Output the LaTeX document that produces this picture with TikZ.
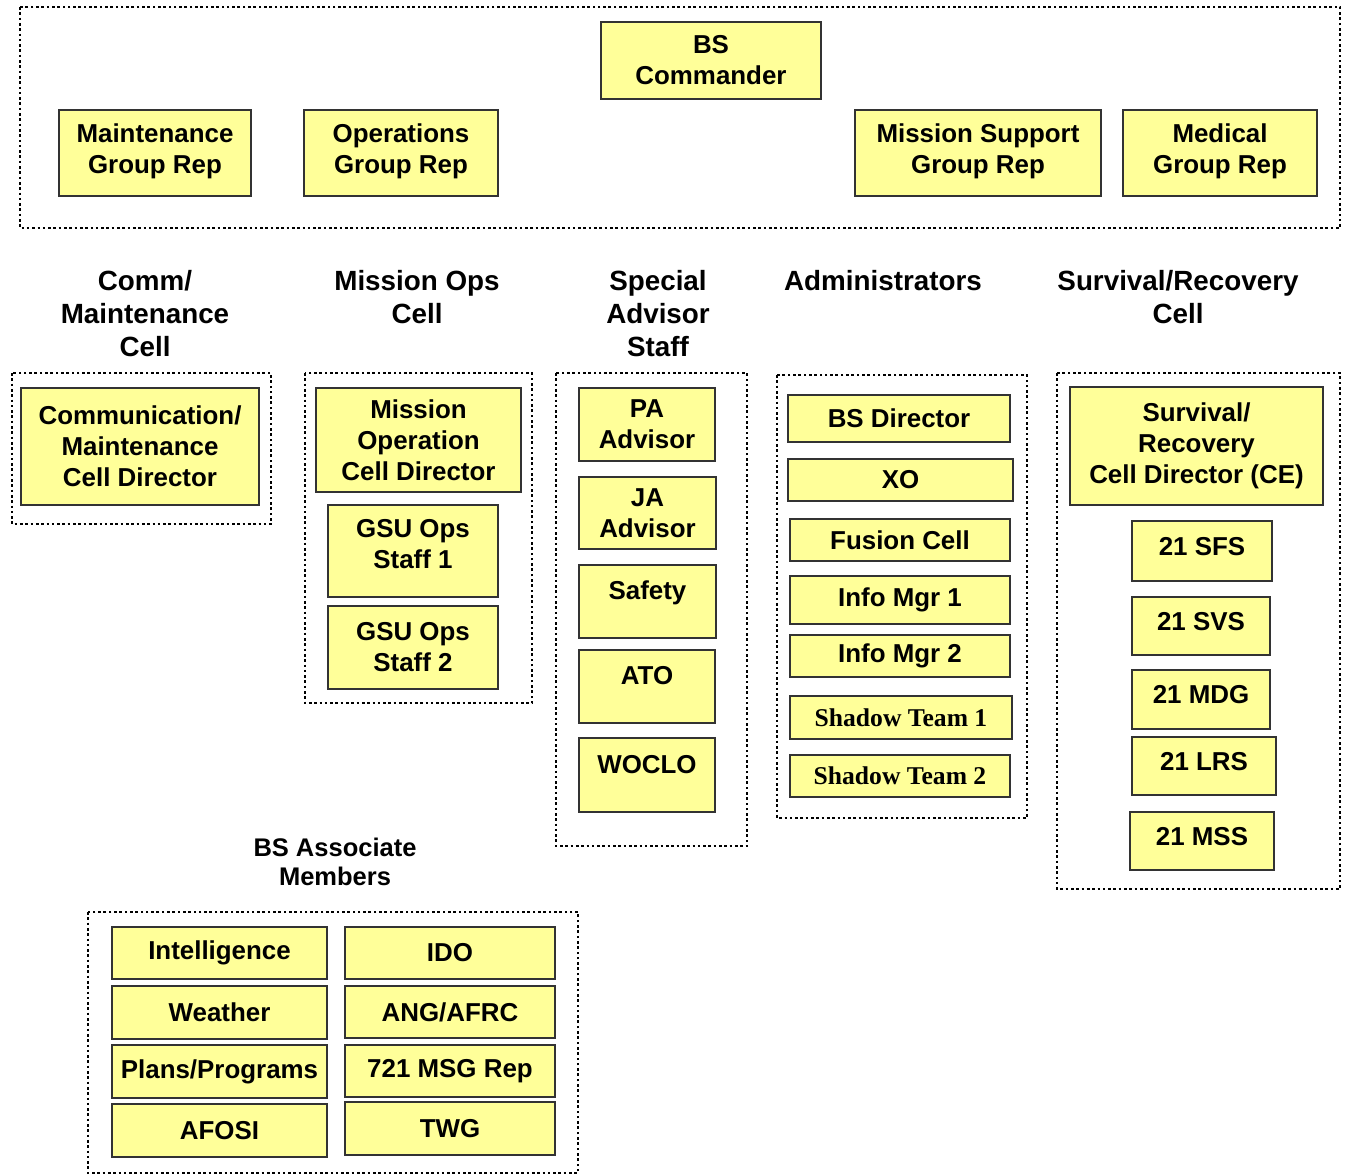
\documentclass[tikz,border=0pt]{standalone}
\usepackage{fontspec}
\setmainfont{Liberation Sans}
\newfontfamily\timesb{Liberation Serif}
\usepackage{xcolor}
\usepackage{tikz}
\definecolor{amarelo}{RGB}{255,255,153}
\tikzset{
  bloco/.style 2 args={draw=black!80, line width=1.3pt, fill=amarelo, align=center, inner sep=0pt,
    minimum width=#1pt, minimum height=#2pt, font=\fontsize{25.9}{31}\selectfont\bfseries},
  desce/.style={text depth=#1pt},
  moldura/.style={line width=2.6pt, dash pattern=on 2.6pt off 2.7pt},
  rotulo/.style={align=center, inner sep=0pt, font=\fontsize{27.8}{33}\selectfont\bfseries},
}
\begin{document}
\begin{tikzpicture}[x=1pt, y=-1pt]
  \useasboundingbox (0,0) rectangle (1345,1176);
  \draw[moldura] (20,7) rectangle (1340,228);
  \node[bloco={220}{77}] (cmdr) at (711,60.5) {BS\\Commander};
  \node[bloco={192}{86}, desce=9] (mxg) at (155,153) {Maintenance\\Group Rep};
  \node[bloco={194}{86}, desce=9] (og) at (401,153) {Operations\\Group Rep};
  \node[bloco={246}{86}, desce=9] (msg) at (978,153) {Mission Support\\Group Rep};
  \node[bloco={194}{86}, desce=9] (mdg) at (1220,153) {Medical\\Group Rep};

  \node[rotulo] (tcomm) at (145,314) {Comm/\\Maintenance\\Cell};
  \node[rotulo] (tops) at (417,297) {Mission Ops\\Cell};
  \node[rotulo] (tspec) at (658,314) {Special\\Advisor\\Staff};
  \node[rotulo] (tadm) at (883,281) {Administrators};
  \node[rotulo] (tsurv) at (1178,297) {Survival/Recovery\\Cell};

  \draw[moldura] (12,373) rectangle (271,524);
  \node[bloco={238}{117}] (commdir) at (140,446.5) {Communication/\\Maintenance\\Cell Director};

  \draw[moldura] (305,373) rectangle (532,703);
  \node[bloco={205}{104}] (opsdir) at (418.5,440) {Mission\\Operation\\Cell Director};
  \node[bloco={170}{92}, desce=15] (gsu1) at (413,551) {GSU Ops\\Staff 1};
  \node[bloco={170}{83}] (gsu2) at (413,647.5) {GSU Ops\\Staff 2};

  \draw[moldura] (556,373) rectangle (747,846);
  \node[bloco={136}{73}] (pa) at (647,424.5) {PA\\Advisor};
  \node[bloco={137}{72}] (ja) at (647.5,513) {JA\\Advisor};
  \node[bloco={137}{73}, desce=22] (safety) at (647.5,601.5) {Safety};
  \node[bloco={136}{73}, desce=22] (ato) at (647,686.5) {ATO};
  \node[bloco={136}{74}, desce=22] (woclo) at (647,775) {WOCLO};

  \draw[moldura] (777,375) rectangle (1027,818);
  \node[bloco={222}{47}] (bsdir) at (899,418.5) {BS Director};
  \node[bloco={225}{42}] (xo) at (900.5,480) {XO};
  \node[bloco={220}{42}] (fusion) at (900,540) {Fusion Cell};
  \node[bloco={220}{48}] (info1) at (900,600) {Info Mgr 1};
  \node[bloco={220}{42}] (info2) at (900,656) {Info Mgr 2};
  \node[bloco={222}{43}, font=\fontsize{25.6}{31}\timesb\bfseries] (shadow1) at (901,717.5) {Shadow Team 1};
  \node[bloco={220}{42}, font=\fontsize{25.6}{31}\timesb\bfseries] (shadow2) at (900,776) {Shadow Team 2};

  \draw[moldura] (1057,373) rectangle (1340,889);
  \node[bloco={253}{118}] (survdir) at (1196.5,446) {Survival/\\Recovery\\Cell Director (CE)};
  \node[bloco={140}{60}, desce=10] (sfs) at (1202,551) {21 SFS};
  \node[bloco={138}{58}, desce=10] (svs) at (1201,626) {21 SVS};
  \node[bloco={138}{59}, desce=10] (mdgsq) at (1201,699.5) {21 MDG};
  \node[bloco={144}{58}, desce=10] (lrs) at (1204,766) {21 LRS};
  \node[bloco={144}{58}, desce=10] (mss) at (1202,841) {21 MSS};

  \node[rotulo, font=\fontsize{25.5}{29}\selectfont\bfseries] (tassoc) at (335,862) {BS Associate\\Members};
  \draw[moldura] (88,912) rectangle (578,1173);
  \node[bloco={215}{52}] (intel) at (219.5,953) {Intelligence};
  \node[bloco={215}{53}] (wx) at (219.5,1012.5) {Weather};
  \node[bloco={215}{53}] (plans) at (219.5,1071.5) {Plans/Programs};
  \node[bloco={215}{53}] (afosi) at (219.5,1130.5) {AFOSI};
  \node[bloco={210}{52}] (ido) at (450,953) {IDO};
  \node[bloco={210}{52}] (ang) at (450,1012) {ANG/AFRC};
  \node[bloco={210}{52}] (rep721) at (450,1071) {721 MSG Rep};
  \node[bloco={210}{53}] (twg) at (450,1128.5) {TWG};
\end{tikzpicture}
\end{document}
